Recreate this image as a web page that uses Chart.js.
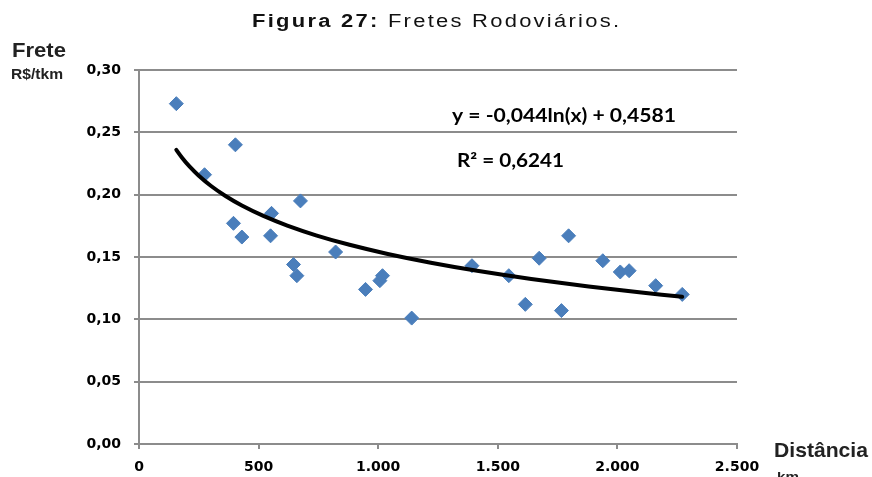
<!DOCTYPE html>
<html>
<head>
<meta charset="utf-8">
<script src="https://cdn.jsdelivr.net/npm/chart.js@4"></script>
<style>
  html, body { margin: 0; padding: 0; background: #fff; }
  #wrap { width: 872px; height: 477px; position: relative; }
</style>
</head>
<body>
<div id="wrap"><canvas id="fretesChart"></canvas></div>
<script>
// distância (km) e frete (R$/tkm)
const distancias = [156, 274, 403, 395, 430, 554, 550, 675, 646, 660, 822, 947, 1007, 1018, 1140,
  1392, 1546, 1615, 1673, 1766, 1796, 1939, 2012, 2049, 2160, 2271];
const fretes = [0.273, 0.216, 0.240, 0.177, 0.166, 0.185, 0.167, 0.195, 0.144, 0.135, 0.154, 0.124, 0.131, 0.135, 0.101,
  0.143, 0.135, 0.112, 0.149, 0.107, 0.167, 0.147, 0.138, 0.139, 0.127, 0.120];

// linha de tendência logarítmica (equação do gráfico)
const coefA = -0.044;
const coefB = 0.4581;
const tendenciaX = [156, 180, 210, 250, 300, 360, 430, 520, 620, 740, 880, 1040, 1220, 1420, 1640, 1880, 2100, 2271];

const xTicks = [0, 500, 1000, 1500, 2000, 2500];
const yTicks = [0, 0.05, 0.10, 0.15, 0.20, 0.25, 0.30];

const pontos = distancias.map((d, i) => ({ x: d, y: fretes[i] }));
const tendencia = tendenciaX.map(x => ({ x: x, y: coefA * Math.log(x) + coefB }));

const GRID = '#8c8c8c';
const TICK_FONT = { family: 'DejaVu Sans', size: 14, weight: 'bold' };

// texto com largura ajustada (escala horizontal)
function fitText(ctx, text, x, y, font, width) {
  ctx.save();
  ctx.font = font;
  const w = ctx.measureText(text).width;
  const sx = width ? width / w : 1;
  ctx.translate(x, y);
  ctx.scale(sx, 1);
  ctx.fillText(text, 0, 0);
  ctx.restore();
}

// texto com espaçamento entre letras (em coordenadas já escaladas)
function spacedText(ctx, text, x, y, spacing) {
  for (const ch of text) {
    ctx.fillText(ch, x, y);
    x += ctx.measureText(ch).width + spacing;
  }
  return x;
}

const textos = {
  id: 'textos',
  afterDraw(chart) {
    const ctx = chart.ctx;
    ctx.save();
    ctx.fillStyle = '#111';
    ctx.textBaseline = 'alphabetic';
    ctx.textAlign = 'left';

    // título: fonte larga, pouco espaçada
    const bold = 'bold 18px "Liberation Sans", Arial, sans-serif';
    const normal = '18px "Liberation Sans", Arial, sans-serif';
    const t1 = 'Figura 27:';
    const t2 = ' Fretes Rodoviários.';
    const sx = 1.22;
    ctx.font = bold;
    const w1 = ctx.measureText(t1).width;
    ctx.font = normal;
    const w2 = ctx.measureText(t2).width;
    const sp = (367 / sx - w1 - w2) / 29;
    ctx.save();
    ctx.translate(252, 27);
    ctx.scale(sx, 1);
    ctx.font = bold;
    let x = spacedText(ctx, t1, 0, 0, sp);
    ctx.font = normal;
    spacedText(ctx, t2, x, 0, sp);
    ctx.restore();

    // rótulos dos eixos
    ctx.fillStyle = '#222';
    fitText(ctx, 'Frete', 12, 57, 'bold 21px "Liberation Sans", Arial, sans-serif', 54);
    fitText(ctx, 'R$/tkm', 11, 79, 'bold 14px "Liberation Sans", Arial, sans-serif', 52);
    fitText(ctx, 'Distância', 774, 457, 'bold 21px "Liberation Sans", Arial, sans-serif', 94);
    fitText(ctx, 'km', 777, 481, 'bold 13px "Liberation Sans", Arial, sans-serif', 22);

    // equação e R²
    ctx.fillStyle = '#000';
    fitText(ctx, 'y = -0,044ln(x) + 0,4581', 452, 122, 'bold 18px Lato, "Open Sans", sans-serif', 224);
    fitText(ctx, 'R² = 0,6241', 457, 167, 'bold 18px Lato, "Open Sans", sans-serif', 107);
    ctx.restore();
  }
};

const ctx = document.getElementById('fretesChart').getContext('2d');
new Chart(ctx, {
  type: 'scatter',
  data: {
    datasets: [
      {
        label: 'Tendência',
        data: tendencia,
        showLine: true,
        borderColor: '#000',
        borderWidth: 4,
        pointRadius: 0,
        tension: 0.3,
        borderCapStyle: 'round',
        order: 0
      },
      {
        label: 'Fretes',
        data: pontos,
        pointStyle: 'rectRot',
        pointRadius: 7,
        pointBackgroundColor: '#4a7ebb',
        pointBorderColor: '#4a7ebb',
        pointBorderWidth: 1,
        order: 1
      }
    ]
  },
  options: {
    responsive: true,
    maintainAspectRatio: false,
    animation: false,
    layout: { padding: { left: 0, top: 70, right: 135, bottom: 0 } },
    plugins: {
      legend: { display: false },
      tooltip: { enabled: false }
    },
    scales: {
      x: {
        type: 'linear',
        min: 0,
        max: 2500,
        afterBuildTicks: s => { s.ticks = xTicks.map(v => ({ value: v })); },
        afterFit: s => { s.height = 33; },
        ticks: {
          color: '#000',
          font: TICK_FONT,
          padding: 10,
          maxRotation: 0,
          callback: v => v >= 1000 ? Math.floor(v / 1000) + '.' + String(v % 1000).padStart(3, '0') : String(v)
        },
        grid: { drawOnChartArea: false, drawTicks: true, tickLength: 5, color: GRID, lineWidth: 2 },
        border: { display: true, color: GRID, width: 2 }
      },
      y: {
        min: 0,
        max: 0.3,
        afterBuildTicks: s => { s.ticks = yTicks.map(v => ({ value: v })); },
        afterFit: s => { s.width = 139; },
        ticks: {
          color: '#000',
          font: TICK_FONT,
          padding: 13,
          callback: v => v.toFixed(2).replace('.', ',')
        },
        grid: { color: GRID, lineWidth: 2, tickLength: 5 },
        border: { display: true, color: GRID, width: 2 }
      }
    }
  },
  plugins: [textos]
});
</script>
</body>
</html>
